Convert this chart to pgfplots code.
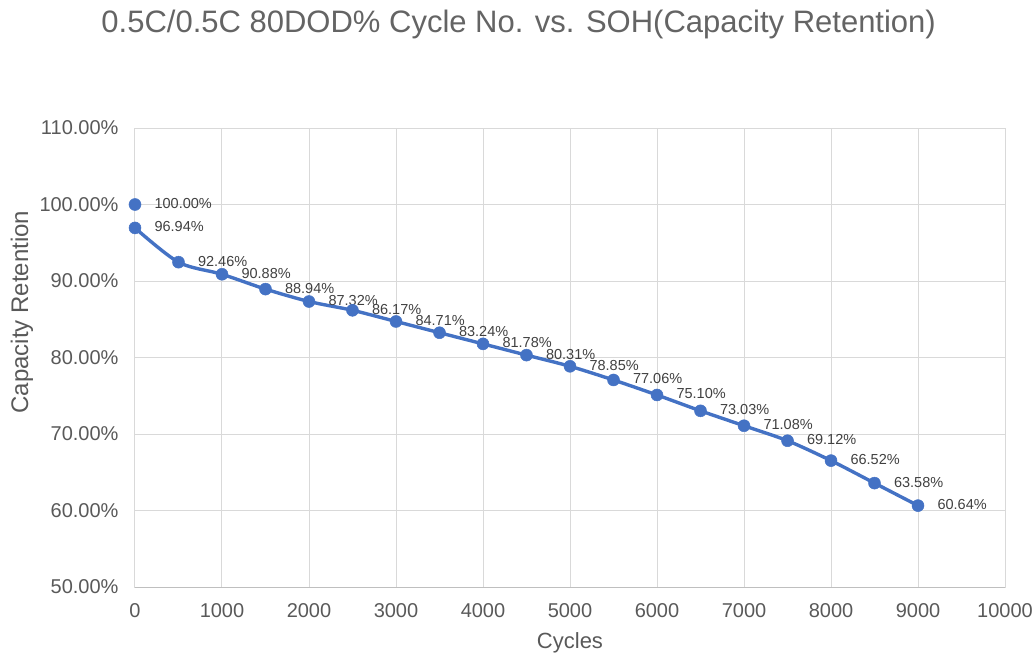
\documentclass[border=0pt]{standalone}
\usepackage{fontspec}
\setmainfont{Liberation Sans}
\usepackage{pgfplots}
\pgfplotsset{compat=1.18}
\definecolor{blueline}{HTML}{4472C4}
\definecolor{txt}{HTML}{595959}
\definecolor{ttl}{HTML}{646464}
\definecolor{lbl}{HTML}{404040}
\definecolor{gridc}{HTML}{D9D9D9}
\definecolor{axisc}{HTML}{BFBFBF}
\begin{document}
\begin{tikzpicture}
\begin{axis}[
  scale only axis, width=870pt, height=459pt,
  xmin=0, xmax=10000, ymin=50, ymax=110,
  xtick={0,1000,...,10000}, ytick={50,60,...,110},
  yticklabels={50.00\%,60.00\%,70.00\%,80.00\%,90.00\%,100.00\%,110.00\%},
  /pgf/number format/assume math mode=true,
  /pgf/number format/1000 sep={},
  scaled x ticks=false,
  grid=major, major grid style={draw=gridc, line width=1pt},
  axis line style={draw=gridc, line width=1pt},
  major tick length=0pt,
  tick label style={font=\fontsize{20}{20}\selectfont, text=txt},
  xticklabel style={inner sep=0pt, yshift=-16pt},
  yticklabel style={xshift=-13pt},
  title={0.5C/0.5C 80DOD\% Cycle No. vs. SOH(Capacity Retention)},
  title style={at={(axis description cs:0.441,1.2135)}, anchor=center, font=\fontsize{31}{31}\selectfont, text=ttl},
  xlabel={Cycles}, ylabel={Capacity Retention},
  xlabel style={at={(axis description cs:0.5,-0.122)}, anchor=center, font=\fontsize{22}{22}\selectfont, text=txt},
  ylabel style={at={(axis description cs:-0.1299,0.599)}, anchor=center, font=\fontsize{24}{24}\selectfont, text=txt},
  clip=false,
  every node near coord/.style={anchor=west, xshift=16pt, yshift=1pt, font=\fontsize{14.5}{14.5}\selectfont, text=lbl},
]
\coordinate (sw) at (rel axis cs:0,0);
\coordinate (ne) at (rel axis cs:1,1);
\draw[axisc, line width=1pt] (rel axis cs:0,0) -- (rel axis cs:1,0);
\addplot[blueline, line width=3.4pt, smooth, mark=*, mark size=6pt,
  mark options={solid, fill=blueline, draw=blueline, line width=0.5pt},
  point meta=explicit symbolic, nodes near coords={\pgfplotspointmeta\%}]
  coordinates {
  (0,96.94) [96.94]
  (500,92.46) [92.46]
  (1000,90.88) [90.88]
  (1500,88.94) [88.94]
  (2000,87.32) [87.32]
  (2500,86.17) [86.17]
  (3000,84.71) [84.71]
  (3500,83.24) [83.24]
  (4000,81.78) [81.78]
  (4500,80.31) [80.31]
  (5000,78.85) [78.85]
  (5500,77.06) [77.06]
  (6000,75.10) [75.10]
  (6500,73.03) [73.03]
  (7000,71.08) [71.08]
  (7500,69.12) [69.12]
  (8000,66.52) [66.52]
  (8500,63.58) [63.58]
  (9000,60.64) [60.64]
  };
\addplot[only marks, mark=*, mark size=6pt,
  mark options={fill=blueline, draw=blueline, line width=0.5pt},
  point meta=explicit symbolic, nodes near coords={\pgfplotspointmeta\%}]
  coordinates {(0,100.00) [100.00]};
\end{axis}
\path ([shift={(-135pt,-70pt)}]sw) rectangle ([shift={(28pt,128pt)}]ne);
\end{tikzpicture}
\end{document}
